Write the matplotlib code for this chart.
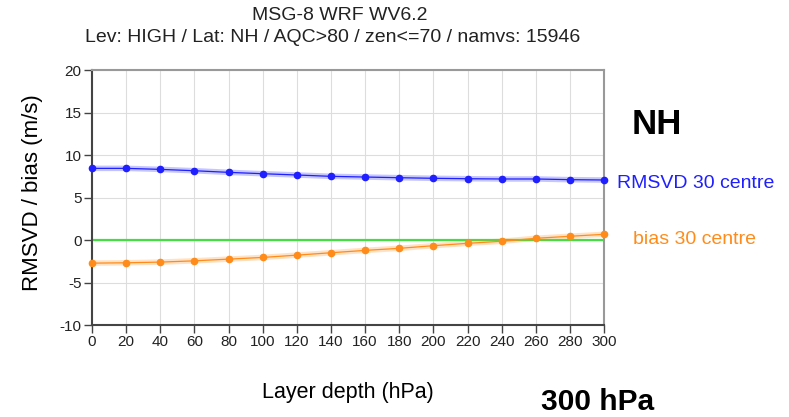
#!/usr/bin/env python3
# RMSVD / bias vs layer depth, MSG-8 WRF WV6.2

import matplotlib
matplotlib.use('Agg')
import matplotlib.pyplot as plt

plt.rcParams['font.family'] = ['Liberation Sans', 'DejaVu Sans']
plt.rcParams['axes.unicode_minus'] = False

# Data
layer_depth = [0, 20, 40, 60, 80, 100, 120, 140, 160, 180, 200, 220, 240,
               260, 280, 300]
rmsvd = [8.43, 8.43, 8.31, 8.15, 7.96, 7.80, 7.65, 7.49, 7.41, 7.33, 7.26,
         7.21, 7.18, 7.18, 7.10, 7.06]
bias = [-2.72, -2.68, -2.60, -2.45, -2.25, -2.05, -1.78, -1.50, -1.22, -0.98,
        -0.67, -0.39, -0.15, 0.20, 0.44, 0.67]
x_ticks = list(range(0, 301, 20))
y_ticks = list(range(-10, 21, 5))

blue = '#1f1fff'
orange = '#ff8c1a'

fig = plt.figure(figsize=(7.89, 4.17), dpi=100)
ax = fig.add_axes([0.1166, 0.2206, 0.649, 0.6115])

# grid
ax.set_axisbelow(True)
ax.grid(True, color='#dddddd', lw=0.8)

# zero line
ax.axhline(0, color='#44dd44', lw=1.6, zorder=2)

# series: faint broad band plus thin line with dots
ax.plot(layer_depth, rmsvd, color=blue, lw=4, alpha=0.25, zorder=3)
ax.plot(layer_depth, rmsvd, color=blue, lw=0.9, marker='o', ms=4.5,
        zorder=4, clip_on=False)
ax.plot(layer_depth, bias, color=orange, lw=4, alpha=0.25, zorder=3)
ax.plot(layer_depth, bias, color=orange, lw=0.9, marker='o', ms=4.5,
        zorder=4, clip_on=False)

ax.set_xlim(0, 300)
ax.set_ylim(-10, 20)
ax.set_xticks(x_ticks)
ax.set_yticks(y_ticks)
ax.tick_params(labelsize=11, length=6, width=1, color='#444444', pad=1.5,
               labelcolor='#222222')

for side in ('left', 'bottom'):
    ax.spines[side].set_color('#444444')
    ax.spines[side].set_linewidth(1.5)
for side in ('top', 'right'):
    ax.spines[side].set_color('#999999')
    ax.spines[side].set_linewidth(1.5)

ax.set_xlabel('Layer depth (hPa)', fontsize=15.5, va='center')
ax.xaxis.set_label_coords(0.5, -0.265)
ax.set_ylabel('RMSVD / bias (m/s)', fontsize=16, va='center')
ax.yaxis.set_label_coords(-0.117, 0.52)

fig.text(0.431, 0.963, 'MSG-8 WRF WV6.2', ha='center', va='center',
         fontsize=14, color='#222222')
fig.text(0.421, 0.91, 'Lev: HIGH / Lat: NH / AQC>80 / zen<=70 / namvs: 15946',
         ha='center', va='center', fontsize=14, color='#222222')

# series labels to the right of the axes
fig.text(617 / 789, 1 - 184 / 417, 'RMSVD 30 centre', color=blue,
         ha='left', va='center', fontsize=14)
fig.text(633 / 789, 1 - 239 / 417, 'bias 30 centre', color=orange,
         ha='left', va='center', fontsize=14)

fig.text(632 / 789, 1 - 134.5 / 417, 'NH', fontsize=25, fontweight='bold',
         ha='left', va='baseline')
fig.text(541 / 789, 1 - 410 / 417, '300 hPa', fontsize=21.5,
         fontweight='bold', ha='left', va='baseline')

fig.savefig('out.png', dpi=100)
